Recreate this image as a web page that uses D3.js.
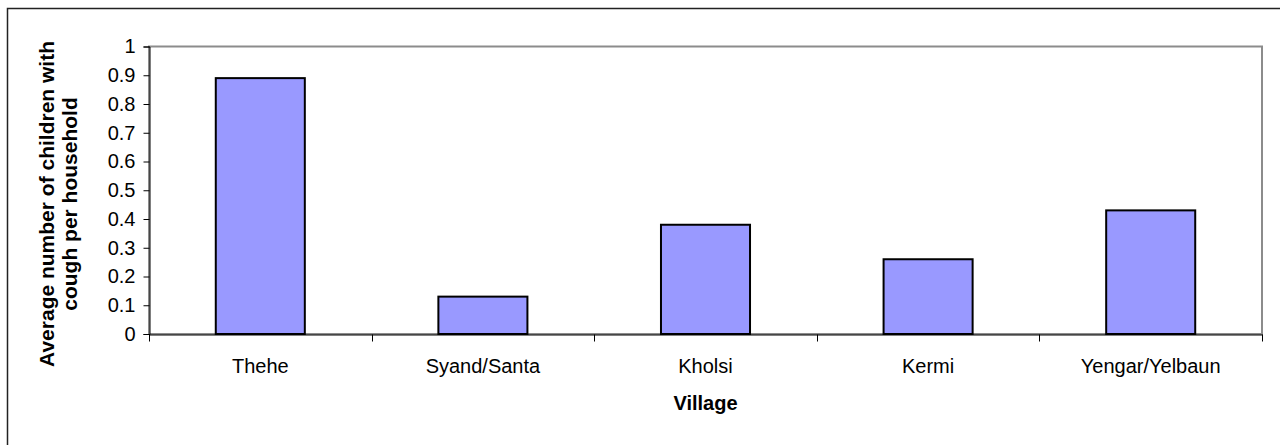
<!DOCTYPE html>
<html>
<head>
<meta charset="utf-8">
<script src="https://cdn.jsdelivr.net/npm/d3@7"></script>
<style>
    body { margin: 0; background: #fff; }
    svg { display: block; font-family: Arial, "Liberation Sans", sans-serif; }
    .axis path, .axis line { stroke: #000; }
    .axis text { font-size: 20px; fill: #000; }
</style>
</head>
<body>
<svg id="chart" width="1280" height="445"></svg>
<script>
// villages and average number of children with cough per household
var villages = ["Thehe", "Syand/Santa", "Kholsi", "Kermi", "Yengar/Yelbaun"];
var coughAvg = [0.89, 0.13, 0.38, 0.26, 0.43];
var yTicks = [0, 0.1, 0.2, 0.3, 0.4, 0.5, 0.6, 0.7, 0.8, 0.9, 1];
var yTickLabels = ["0", "0.1", "0.2", "0.3", "0.4", "0.5", "0.6", "0.7", "0.8", "0.9", "1"];
var xTitle = "Village";
var yTitle = ["Average number of children with", "cough per household"];

var svg = d3.select("#chart");
var plot = {left: 149, right: 1262, top: 46.5, bottom: 334};

// outer chart frame (runs off the right and bottom edge)
svg.append("rect")
   .attr("x", 7.5)
   .attr("y", 8.5)
   .attr("width", 1300)
   .attr("height", 460)
   .attr("fill", "none")
   .attr("stroke", "#222")
   .attr("stroke-width", 1.5);

var x = d3.scaleBand()
          .domain(villages)
          .range([plot.left, plot.right])
          .padding(0);
var y = d3.scaleLinear()
          .domain([0, 1])
          .range([plot.bottom, plot.top]);

// plot area border (grey, top + right show)
svg.append("rect")
   .attr("x", plot.left)
   .attr("y", plot.top)
   .attr("width", plot.right - plot.left)
   .attr("height", plot.bottom - plot.top)
   .attr("fill", "none")
   .attr("stroke", "#8c8c8c")
   .attr("stroke-width", 2);

// bars, gap width 150% like excel
var barW = x.bandwidth() / 2.5;
svg.append("g")
   .selectAll("rect")
   .data(villages)
   .enter()
   .append("rect")
   .attr("x", function (d) { return x(d) + (x.bandwidth() - barW) / 2; })
   .attr("y", function (d, i) { return y(coughAvg[i]); })
   .attr("width", barW)
   .attr("height", function (d, i) { return y(0) - y(coughAvg[i]); })
   .attr("fill", "#9999ff")
   .attr("stroke", "#000")
   .attr("stroke-width", 2);

// y axis
svg.append("g")
   .attr("class", "axis axis-y")
   .attr("transform", "translate(" + (plot.left + 0.5) + ",0)")
   .call(d3.axisLeft(y)
           .tickValues(yTicks)
           .tickFormat(function (d, i) { return yTickLabels[i]; })
           .tickSizeOuter(0)
           .tickSize(6)
           .tickPadding(8));

// x axis, labels centred, ticks on category borders
var xaxisG = svg.append("g")
   .attr("class", "axis axis-x")
   .attr("transform", "translate(0," + (plot.bottom + 0.5) + ")")
   .call(d3.axisBottom(x).tickSize(0).tickSizeOuter(0));
xaxisG.selectAll("text")
      .attr("y", 38)
      .attr("dy", 0);
var borders = villages.map(function (d) { return x(d); }).concat([x.range()[1]]);
xaxisG.selectAll(".border-tick")
      .data(borders)
      .enter()
      .append("line")
      .attr("class", "border-tick")
      .attr("x1", function (d) { return Math.round(d) + 0.5; })
      .attr("x2", function (d) { return Math.round(d) + 0.5; })
      .attr("y1", 0)
      .attr("y2", 7)
      .attr("stroke", "#000");

// axis titles
svg.append("text")
   .attr("x", (plot.left + plot.right) / 2)
   .attr("y", 410)
   .attr("text-anchor", "middle")
   .attr("font-size", 20)
   .attr("font-weight", "bold")
   .text(xTitle);

var yTitleG = svg.append("g")
   .attr("transform", "translate(0,204) rotate(-90)");
yTitleG.selectAll("text")
   .data(yTitle)
   .enter()
   .append("text")
   .attr("x", 0)
   .attr("y", function (d, i) { return 53.5 + i * 23.5; })
   .attr("text-anchor", "middle")
   .attr("font-size", 21)
   .attr("font-weight", "bold")
   .text(function (d) { return d; });
</script>
</body>
</html>
